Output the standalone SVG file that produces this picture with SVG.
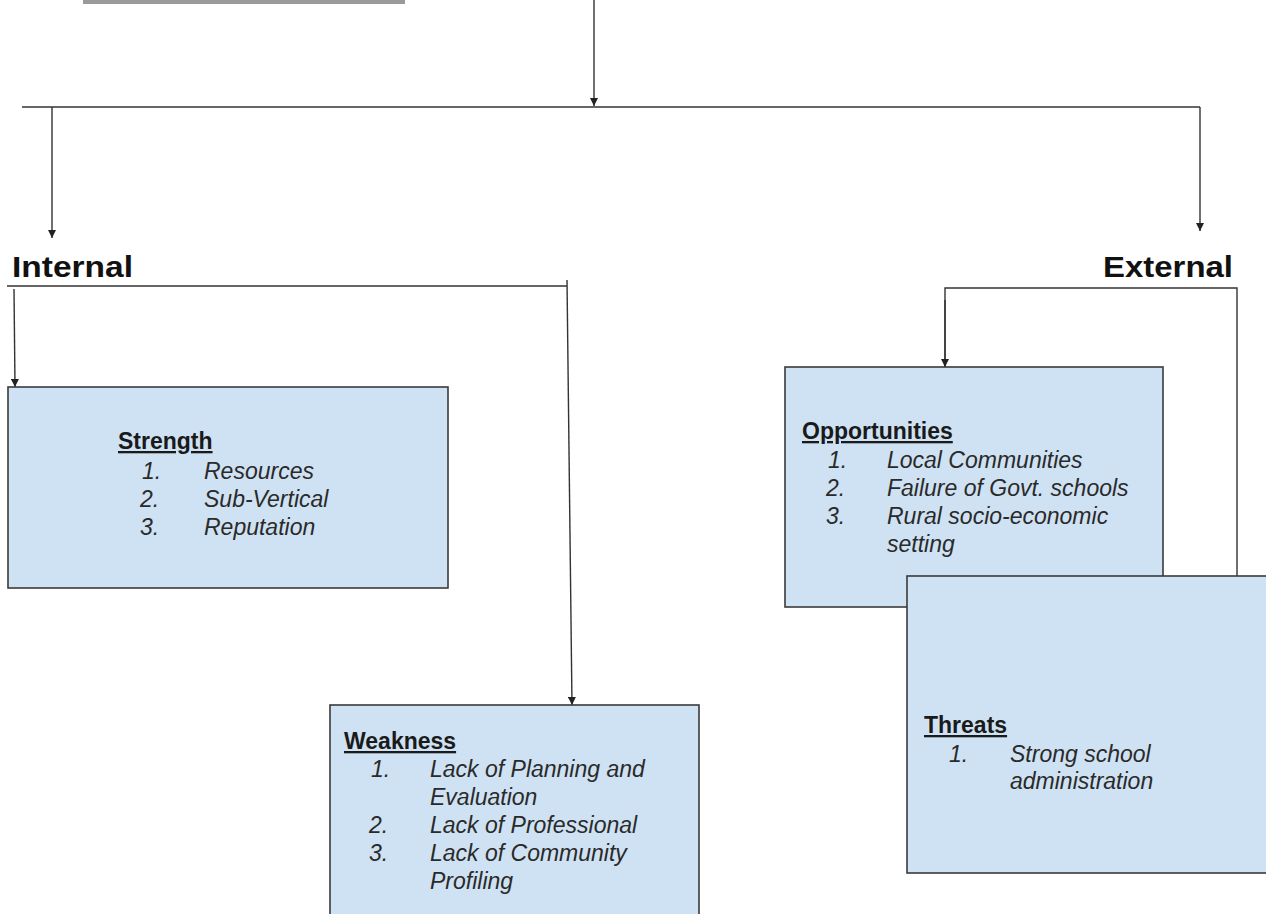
<svg xmlns="http://www.w3.org/2000/svg" width="1266" height="914" viewBox="0 0 1266 914">
<style>
  .conn { stroke:#333; stroke-width:1.4; fill:none; }
  .box { fill:#cfe2f3; stroke:#3a3a3a; stroke-width:1.6; }
  .head { font-family:"Liberation Sans", Arial, sans-serif; font-weight:bold; fill:#111; }
  .ttl { font-family:"Liberation Sans", Arial, sans-serif; font-size:23px; font-weight:bold; fill:#1a1a1a; text-decoration:underline; }
  .item { font-family:"Liberation Sans", Arial, sans-serif; font-size:23px; font-style:italic; fill:#2a2a2a; }
</style>
<defs>
  <marker id="arr" viewBox="0 0 10 10" refX="10" refY="5" markerWidth="8" markerHeight="8" markerUnits="userSpaceOnUse" orient="auto">
    <path d="M0,0 L10,5 L0,10 z" fill="#222"/>
  </marker>
</defs>
<rect width="1266" height="914" fill="#ffffff"/>
<rect x="83" y="0" width="322" height="4" fill="#9a9a9a"/>

<g id="connectors">
  <line class="conn" x1="594" y1="0" x2="594" y2="106" marker-end="url(#arr)"/>
  <polyline class="conn" points="22,107 1200,107"/>
  <line class="conn" x1="52" y1="107" x2="52" y2="238" marker-end="url(#arr)"/>
  <line class="conn" x1="1200" y1="107" x2="1200" y2="231" marker-end="url(#arr)"/>
  <polyline class="conn" points="7,286 567,286"/>
  <line class="conn" x1="567" y1="280" x2="572" y2="705" marker-end="url(#arr)"/>
  <line class="conn" x1="14" y1="289" x2="15" y2="387" marker-end="url(#arr)"/>
  <polyline class="conn" points="945,367 945,288 1237,288 1237,576"/>
  <line class="conn" x1="945" y1="300" x2="945" y2="367" marker-end="url(#arr)"/>
</g>

<g id="internal">
  <text class="head" x="12" y="277" font-size="30" textLength="121" lengthAdjust="spacingAndGlyphs">Internal</text>
</g>
<g id="external">
  <text class="head" x="1103" y="277" font-size="30" textLength="130" lengthAdjust="spacingAndGlyphs">External</text>
</g>

<g id="strength">
  <rect class="box" x="8" y="387" width="440" height="201"/>
  <text class="ttl" x="118" y="449">Strength</text>
  <text class="item" x="142" y="479">1.</text><text class="item" x="204" y="479">Resources</text>
  <text class="item" x="140" y="507">2.</text><text class="item" x="204" y="507">Sub-Vertical</text>
  <text class="item" x="140" y="535">3.</text><text class="item" x="204" y="535">Reputation</text>
</g>

<g id="weakness">
  <rect class="box" x="330" y="705" width="369" height="220"/>
  <text class="ttl" x="344" y="749">Weakness</text>
  <text class="item" x="371" y="777">1.</text><text class="item" x="430" y="777">Lack of Planning and</text>
  <text class="item" x="430" y="805">Evaluation</text>
  <text class="item" x="369" y="833">2.</text><text class="item" x="430" y="833">Lack of Professional</text>
  <text class="item" x="369" y="861">3.</text><text class="item" x="430" y="861">Lack of Community</text>
  <text class="item" x="430" y="889">Profiling</text>
</g>

<g id="opportunities">
  <rect class="box" x="785" y="367" width="378" height="240"/>
  <text class="ttl" x="802" y="439">Opportunities</text>
  <text class="item" x="828" y="468">1.</text><text class="item" x="887" y="468">Local Communities</text>
  <text class="item" x="826" y="496">2.</text><text class="item" x="887" y="496">Failure of Govt. schools</text>
  <text class="item" x="826" y="524">3.</text><text class="item" x="887" y="524">Rural socio-economic</text>
  <text class="item" x="887" y="552">setting</text>
</g>

<g id="threats">
  <rect class="box" x="907" y="576" width="370" height="297"/>
  <text class="ttl" x="924" y="733">Threats</text>
  <text class="item" x="949" y="762">1.</text><text class="item" x="1010" y="762">Strong school</text>
  <text class="item" x="1010" y="789">administration</text>
</g>
</svg>
